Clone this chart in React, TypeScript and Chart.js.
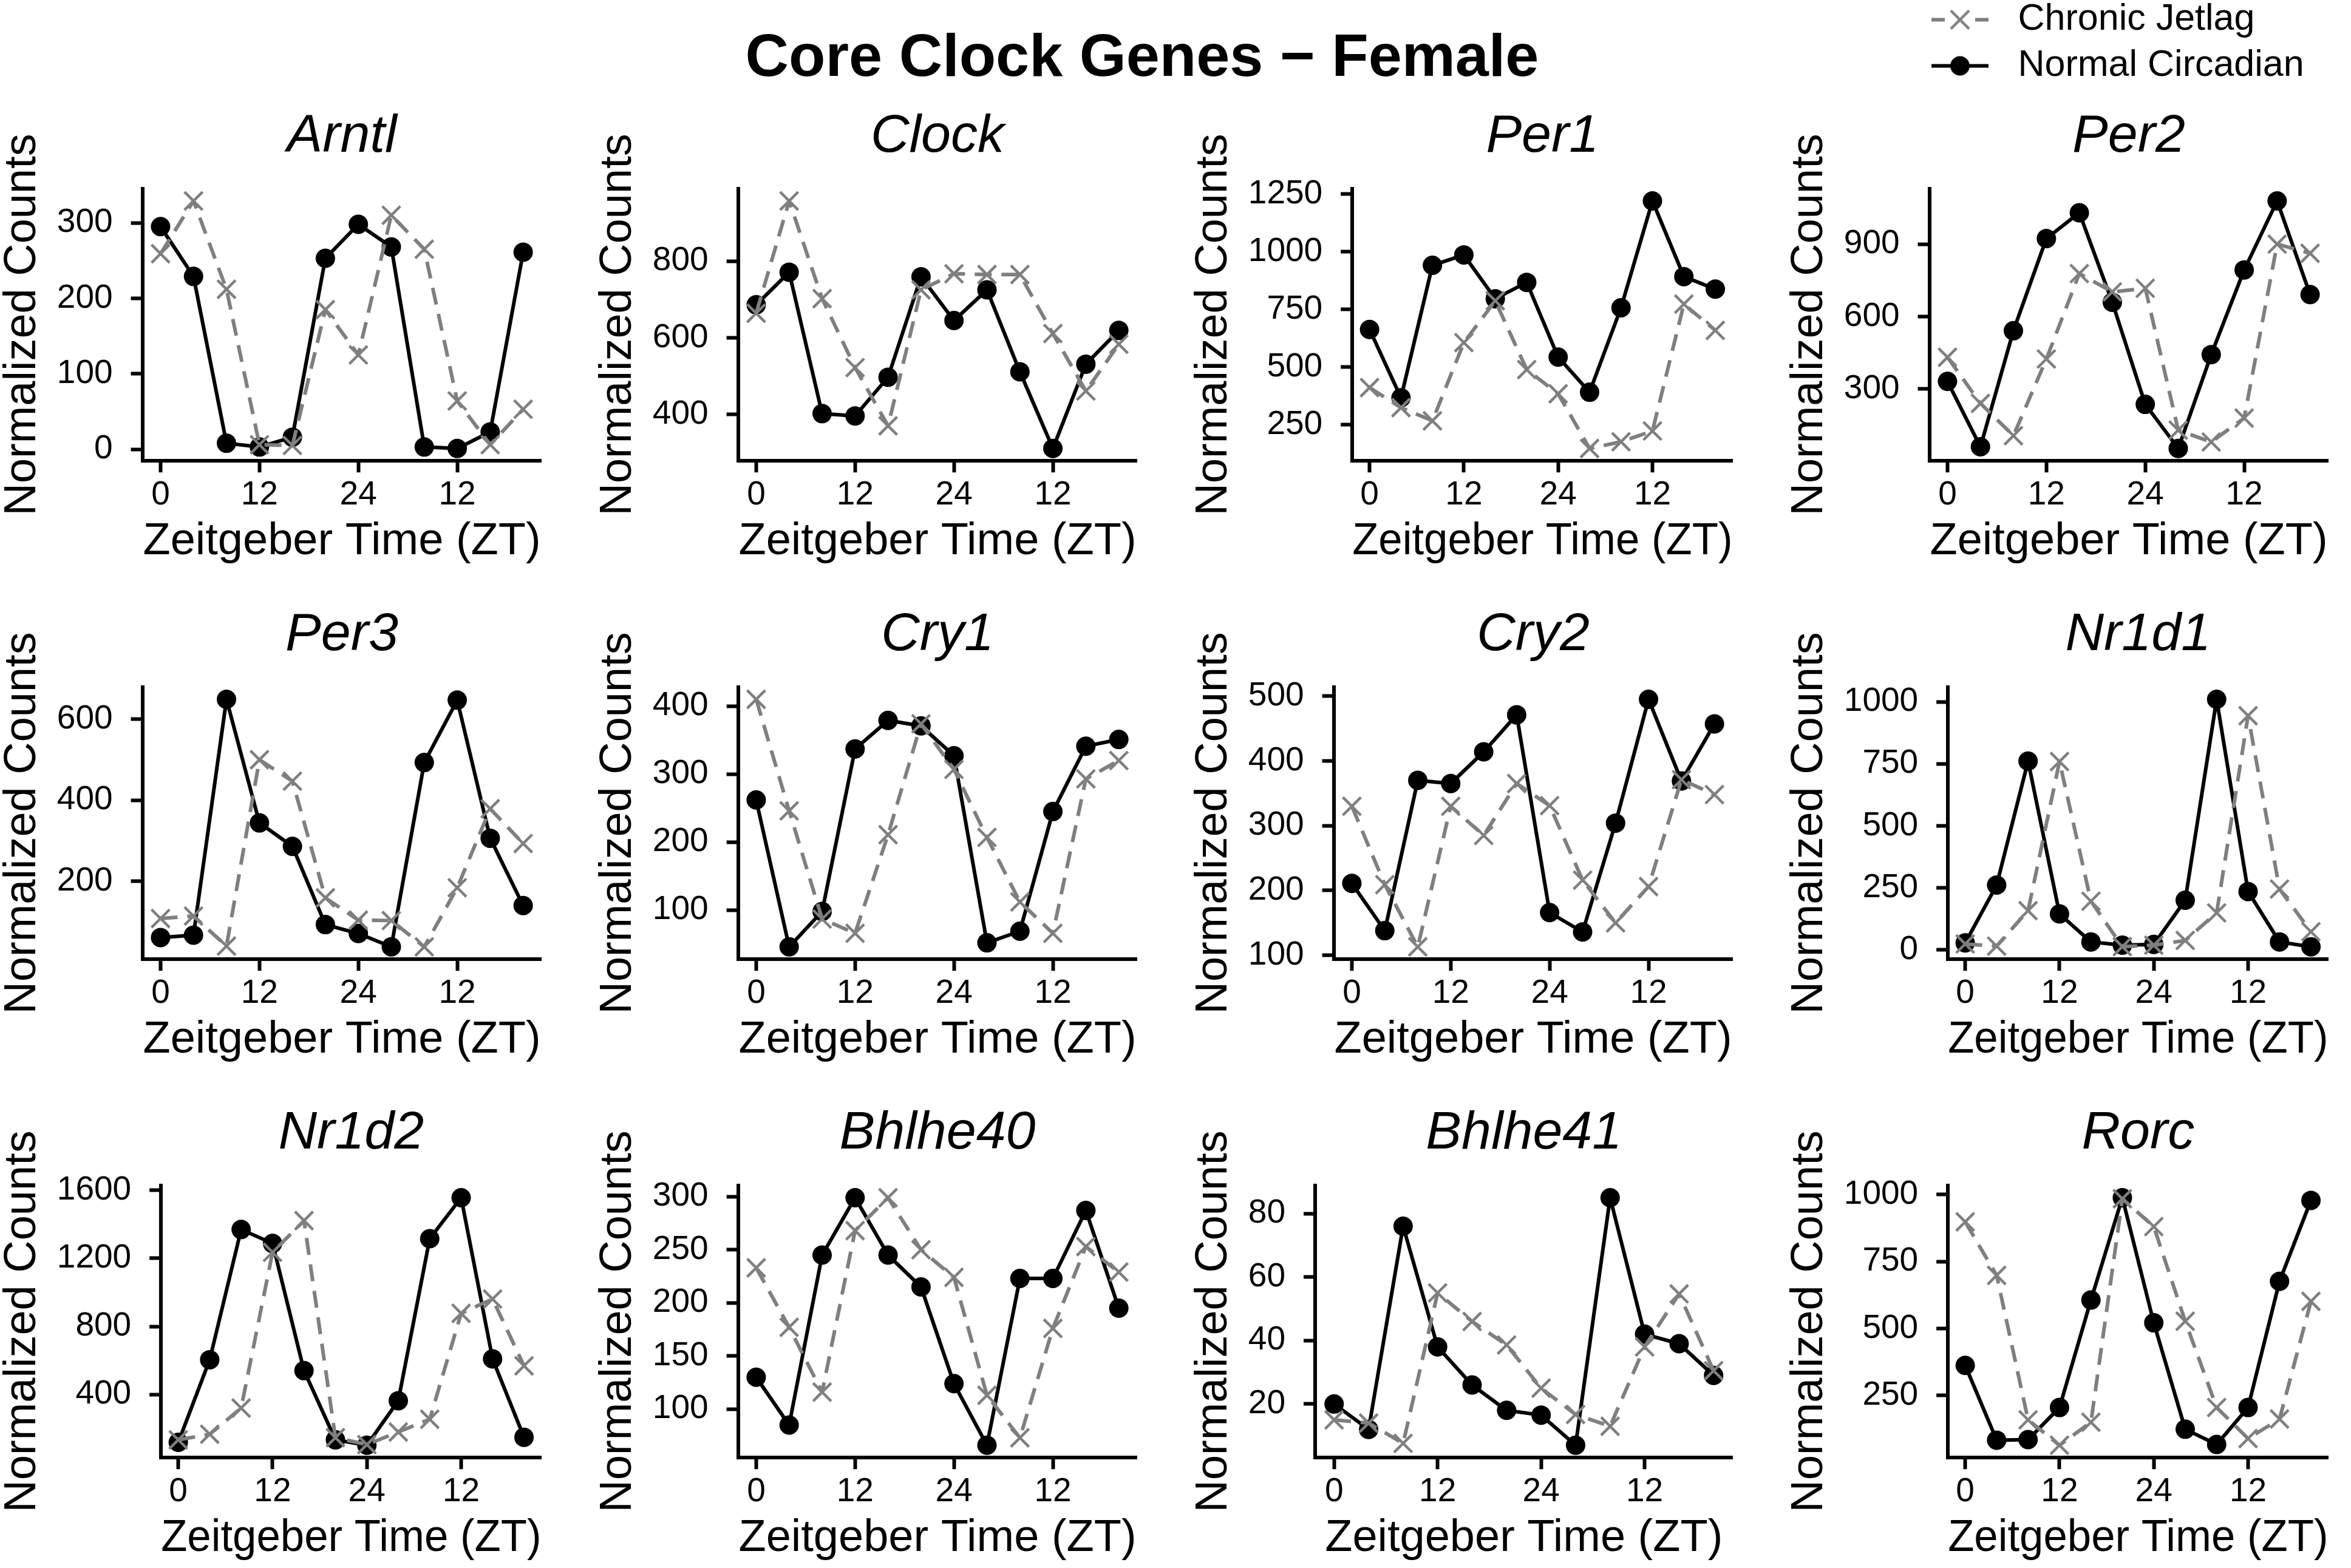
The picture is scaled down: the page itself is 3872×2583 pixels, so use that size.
import React, { useEffect, useRef } from 'react';
import { Chart, registerables } from 'chart.js';

Chart.register(...registerables);

const FONT = "'Liberation Sans', Arial, Helvetica, sans-serif";
const BLACK = '#000000';
const GREY = '#7F7F7F';

const MAIN_TITLE = 'Core Clock Genes \u2212 Female';
const SERIES = ['Chronic Jetlag', 'Normal Circadian'];
const X_TITLE = 'Zeitgeber Time (ZT)';
const Y_TITLE = 'Normalized Counts';

const ZT = [0, 4, 8, 12, 16, 20, 24, 28, 32, 36, 40, 44];
const X_TICKS = [0, 12, 24, 36];
const X_TICK_LABELS = ['0', '12', '24', '12'];

const ARNTL_NORMAL = [295, 229, 8, 3, 16, 253, 298, 268, 3, 1, 23, 261];
const ARNTL_JETLAG = [259, 329, 212, 6, 5, 185, 125, 310, 265, 64, 6, 53];
const ARNTL_TICKS = [0, 100, 200, 300];

const CLOCK_NORMAL = [686, 771, 402, 396, 497, 759, 645, 725, 511, 311, 531, 619];
const CLOCK_JETLAG = [664, 957, 702, 522, 370, 725, 767, 765, 765, 611, 461, 583];
const CLOCK_TICKS = [400, 600, 800];

const PER1_NORMAL = [663, 367, 941, 986, 796, 867, 543, 391, 757, 1220, 892, 838];
const PER1_JETLAG = [411, 324, 267, 606, 787, 489, 384, 147, 176, 223, 773, 659];
const PER1_TICKS = [250, 500, 750, 1000, 1250];

const PER2_NORMAL = [331, 60, 541, 923, 1030, 659, 236, 53, 442, 793, 1079, 691];
const PER2_JETLAG = [431, 240, 106, 424, 778, 702, 717, 129, 80, 179, 900, 862];
const PER2_TICKS = [300, 600, 900];

const PER3_NORMAL = [61, 67, 649, 344, 286, 93, 71, 38, 493, 647, 306, 140];
const PER3_JETLAG = [108, 114, 40, 500, 447, 159, 104, 103, 38, 184, 379, 293];
const PER3_TICKS = [200, 400, 600];

const CRY1_NORMAL = [262, 46, 98, 337, 379, 371, 327, 52, 69, 245, 341, 351];
const CRY1_JETLAG = [410, 246, 87, 66, 211, 374, 307, 207, 112, 66, 293, 320];
const CRY1_TICKS = [100, 200, 300, 400];

const CRY2_NORMAL = [211, 138, 370, 365, 414, 471, 166, 136, 304, 495, 369, 457];
const CRY2_JETLAG = [330, 209, 113, 330, 285, 365, 331, 216, 150, 206, 371, 348];
const CRY2_TICKS = [100, 200, 300, 400, 500];

const NR1D1_NORMAL = [28, 261, 761, 145, 32, 19, 22, 200, 1010, 235, 32, 12];
const NR1D1_JETLAG = [24, 15, 158, 759, 196, 13, 19, 38, 149, 944, 245, 73];
const NR1D1_TICKS = [0, 250, 500, 750, 1000];

const NR1D2_NORMAL = [118, 604, 1370, 1288, 540, 133, 101, 363, 1316, 1557, 609, 148];
const NR1D2_JETLAG = [133, 166, 320, 1236, 1422, 146, 105, 179, 254, 877, 961, 568];
const NR1D2_TICKS = [400, 800, 1200, 1600];

const BHLHE40_NORMAL = [130, 85, 245, 299, 245, 215, 124, 66, 223, 223, 287, 195];
const BHLHE40_JETLAG = [233, 177, 116, 268, 299, 250, 224, 113, 73, 176, 253, 229];
const BHLHE40_TICKS = [100, 150, 200, 250, 300];

const BHLHE41_NORMAL = [20, 12, 76, 38, 26, 18, 16.5, 7, 85, 42, 39, 29];
const BHLHE41_JETLAG = [15, 14, 7.6, 55, 46, 38.6, 25, 16.7, 13, 38, 54.7, 30.5];
const BHLHE41_TICKS = [20, 40, 60, 80];

const RORC_NORMAL = [362, 83, 85, 205, 606, 988, 521, 124, 67, 205, 676, 978];
const RORC_JETLAG = [898, 698, 159, 64, 150, 984, 880, 527, 205, 89, 162, 601];
const RORC_TICKS = [250, 500, 750, 1000];

const PANELS = [
  { gene: 'Arntl', normal: ARNTL_NORMAL, jetlag: ARNTL_JETLAG, yTicks: ARNTL_TICKS },
  { gene: 'Clock', normal: CLOCK_NORMAL, jetlag: CLOCK_JETLAG, yTicks: CLOCK_TICKS },
  { gene: 'Per1', normal: PER1_NORMAL, jetlag: PER1_JETLAG, yTicks: PER1_TICKS },
  { gene: 'Per2', normal: PER2_NORMAL, jetlag: PER2_JETLAG, yTicks: PER2_TICKS },
  { gene: 'Per3', normal: PER3_NORMAL, jetlag: PER3_JETLAG, yTicks: PER3_TICKS },
  { gene: 'Cry1', normal: CRY1_NORMAL, jetlag: CRY1_JETLAG, yTicks: CRY1_TICKS },
  { gene: 'Cry2', normal: CRY2_NORMAL, jetlag: CRY2_JETLAG, yTicks: CRY2_TICKS },
  { gene: 'Nr1d1', normal: NR1D1_NORMAL, jetlag: NR1D1_JETLAG, yTicks: NR1D1_TICKS },
  { gene: 'Nr1d2', normal: NR1D2_NORMAL, jetlag: NR1D2_JETLAG, yTicks: NR1D2_TICKS },
  { gene: 'Bhlhe40', normal: BHLHE40_NORMAL, jetlag: BHLHE40_JETLAG, yTicks: BHLHE40_TICKS },
  { gene: 'Bhlhe41', normal: BHLHE41_NORMAL, jetlag: BHLHE41_JETLAG, yTicks: BHLHE41_TICKS },
  { gene: 'Rorc', normal: RORC_NORMAL, jetlag: RORC_JETLAG, yTicks: RORC_TICKS },
];

// layout
const COL_PITCH = 981;
const COL_OFFSET = -12;
const PANEL_W = 929;
const ROW_PITCH = 821;
const ROW_OFFSET = 161;
const PANEL_H = 778;

const axisCommon = () => ({
  grid: {
    display: true,
    drawOnChartArea: false,
    drawTicks: true,
    tickLength: 19,
    tickWidth: 6,
    tickColor: BLACK,
  },
  border: { display: true, color: BLACK, width: 6 },
});

function panelConfig(p: any): any {
  const all = [...p.normal, ...p.jetlag];
  const lo = Math.min(...all);
  const hi = Math.max(...all);
  const pad = (hi - lo) * 0.05;
  return {
    type: 'line',
    data: {
      datasets: [
        {
          label: SERIES[0],
          data: ZT.map((x, i) => ({ x, y: p.jetlag[i] })),
          borderColor: GREY,
          backgroundColor: GREY,
          borderWidth: 6,
          borderDash: [28, 16],
          borderJoinStyle: 'round',
          pointStyle: 'crossRot',
          pointRadius: 21,
          pointBorderWidth: 4.5,
          pointBorderColor: GREY,
          pointBackgroundColor: GREY,
          fill: false,
          clip: false,
        },
        {
          label: SERIES[1],
          data: ZT.map((x, i) => ({ x, y: p.normal[i] })),
          borderColor: BLACK,
          backgroundColor: BLACK,
          borderWidth: 6,
          borderJoinStyle: 'round',
          pointStyle: 'circle',
          pointRadius: 16,
          pointBorderWidth: 0,
          pointBackgroundColor: BLACK,
          fill: false,
          clip: false,
        },
      ],
    },
    options: {
      responsive: false,
      animation: false,
      devicePixelRatio: 1,
      events: [],
      layout: { padding: 0 },
      plugins: {
        legend: { display: false },
        tooltip: { enabled: false },
        title: {
          display: true,
          fullSize: false,
          align: 'center',
          text: p.gene,
          color: BLACK,
          font: { family: FONT, size: 88, style: 'italic', weight: 'normal', lineHeight: 1.2 },
          padding: { top: 12, bottom: 32 },
        },
      },
      scales: {
        x: {
          type: 'linear',
          min: -2.2,
          max: 46.2,
          afterBuildTicks: (axis: any) => {
            axis.ticks = X_TICKS.map((v) => ({ value: v }));
          },
          ticks: {
            color: BLACK,
            font: { family: FONT, size: 55, lineHeight: 1.2 },
            padding: 5,
            maxRotation: 0,
            minRotation: 0,
            autoSkip: false,
            callback: (v: any) => X_TICK_LABELS[X_TICKS.indexOf(Number(v))],
          },
          ...axisCommon(),
          title: {
            display: true,
            text: X_TITLE,
            color: BLACK,
            font: { family: FONT, size: 74, lineHeight: 1.2 },
            padding: { top: -6, bottom: 2 },
          },
        },
        y: {
          type: 'linear',
          min: lo - pad,
          max: hi + pad,
          afterBuildTicks: (axis: any) => {
            axis.ticks = p.yTicks.map((v: number) => ({ value: v }));
          },
          ticks: {
            color: BLACK,
            font: { family: FONT, size: 55, lineHeight: 1.2 },
            padding: 30,
            autoSkip: false,
            callback: (v: any) => String(v),
          },
          ...axisCommon(),
          title: {
            display: true,
            text: Y_TITLE,
            color: BLACK,
            font: { family: FONT, size: 74, lineHeight: 1.2 },
            padding: { top: 5, bottom: -18 },
          },
        },
      },
    },
  };
}

function headerConfig(): any {
  return {
    type: 'line',
    data: { datasets: [] },
    options: {
      responsive: false,
      animation: false,
      devicePixelRatio: 1,
      events: [],
      layout: { padding: 0 },
      plugins: {
        legend: { display: false },
        tooltip: { enabled: false },
        title: {
          display: true,
          text: MAIN_TITLE,
          color: BLACK,
          font: { family: FONT, size: 99, weight: 'bold', lineHeight: 1.2 },
          padding: { top: 38, bottom: 0 },
        },
      },
      scales: { x: { display: false }, y: { display: false } },
    },
  };
}

function makeSymbol(kind: number): HTMLCanvasElement {
  const c = document.createElement('canvas');
  c.width = 94;
  c.height = 44;
  const ctx = c.getContext('2d')!;
  const cy = 22;
  const cx = 47;
  if (kind === 0) {
    ctx.strokeStyle = GREY;
    ctx.lineWidth = 6;
    ctx.setLineDash([22, 50]);
    ctx.beginPath();
    ctx.moveTo(0, cy);
    ctx.lineTo(94, cy);
    ctx.stroke();
    ctx.setLineDash([]);
    ctx.lineWidth = 4.5;
    ctx.beginPath();
    ctx.moveTo(cx - 15, cy - 15);
    ctx.lineTo(cx + 15, cy + 15);
    ctx.moveTo(cx + 15, cy - 15);
    ctx.lineTo(cx - 15, cy + 15);
    ctx.stroke();
  } else {
    ctx.strokeStyle = BLACK;
    ctx.fillStyle = BLACK;
    ctx.lineWidth = 6;
    ctx.beginPath();
    ctx.moveTo(0, cy);
    ctx.lineTo(94, cy);
    ctx.stroke();
    ctx.beginPath();
    ctx.arc(cx, cy, 16, 0, Math.PI * 2);
    ctx.fill();
  }
  return c;
}

function legendConfig(): any {
  const symbols = [makeSymbol(0), makeSymbol(1)];
  return {
    type: 'line',
    data: {
      datasets: [
        { label: SERIES[0], data: [], borderColor: GREY },
        { label: SERIES[1], data: [], borderColor: BLACK },
      ],
    },
    options: {
      responsive: false,
      animation: false,
      devicePixelRatio: 1,
      events: [],
      layout: { padding: 0 },
      plugins: {
        tooltip: { enabled: false },
        title: { display: false },
        legend: {
          display: true,
          position: 'top',
          align: 'start',
          labels: {
            usePointStyle: true,
            pointStyleWidth: 130,
            padding: 15,
            color: BLACK,
            font: { family: FONT, size: 61 },
            generateLabels: (chart: any) =>
              chart.data.datasets.map((ds: any, i: number) => ({
                text: ds.label,
                pointStyle: symbols[i],
                fillStyle: 'rgba(0,0,0,0)',
                strokeStyle: 'rgba(0,0,0,0)',
                lineWidth: 0,
                hidden: false,
                datasetIndex: i,
                fontColor: BLACK,
              })),
          },
        },
      },
      scales: { x: { display: false }, y: { display: false } },
    },
  };
}

function ChartCanvas({ make, left, top, width, height }: any) {
  const ref = useRef<HTMLCanvasElement>(null);
  useEffect(() => {
    const chart = new Chart(ref.current as HTMLCanvasElement, make());
    return () => chart.destroy();
  }, []);
  return (
    <canvas
      ref={ref}
      width={width}
      height={height}
      style={{ position: 'absolute', left, top, width, height }}
    />
  );
}

export default function App() {
  useEffect(() => {
    document.body.style.margin = '0';
  }, []);
  Chart.defaults.font.family = FONT;
  Chart.defaults.color = BLACK;
  return (
    <div
      style={{
        position: 'absolute',
        left: 0,
        top: 0,
        width: 3872,
        height: 2583,
        overflow: 'hidden',
        background: '#ffffff',
      }}
    >
      {PANELS.map((p, i) => {
        const col = i % 4;
        const row = Math.floor(i / 4);
        return (
          <ChartCanvas
            key={p.gene}
            make={() => panelConfig(p)}
            left={COL_OFFSET + col * COL_PITCH}
            top={ROW_OFFSET + row * ROW_PITCH}
            width={PANEL_W}
            height={PANEL_H}
          />
        );
      })}
      <ChartCanvas make={headerConfig} left={0} top={0} width={3762} height={160} />
      <ChartCanvas make={legendConfig} left={3148} top={-13} width={724} height={360} />
    </div>
  );
}
